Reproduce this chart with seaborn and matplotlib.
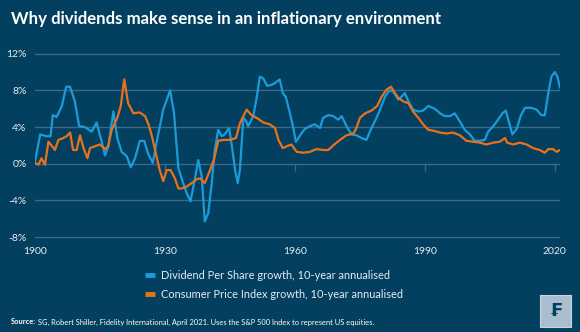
import numpy as np
import pandas as pd
import matplotlib
matplotlib.use("Agg")
import matplotlib.pyplot as plt
from matplotlib.patches import Rectangle
import seaborn as sns

# ---------------- data ----------------
div_years = [1900, 1901.2, 1902.7, 1903.6, 1904.1, 1905, 1906.2, 1907.2, 1908.1, 1909.2,
             1910.2, 1911.5, 1913.1, 1914.2, 1915.4, 1916.2, 1916.9, 1918.1, 1919, 1920,
             1921.2, 1922.1, 1923.1, 1924.2, 1925.2, 1926.2, 1927.2, 1928.1, 1929.6, 1931.2,
             1932.1, 1933.1, 1934.2, 1935, 1935.9, 1936.9, 1937.7, 1938.5, 1939.2, 1940,
             1940.8, 1941.5, 1942.3, 1943.1, 1943.8, 1944.8, 1945.4, 1946.2, 1946.8, 1947.3,
             1948.1, 1948.7, 1949.2, 1950.4, 1951.2, 1951.9, 1952.7, 1953.6, 1954.6, 1955.4,
             1956.5, 1957.2, 1957.9, 1958.85, 1959.6, 1960.2, 1960.8, 1961.5, 1962.3, 1963.5,
             1964.6, 1965.8, 1966.5, 1967.7, 1968.85, 1970, 1970.8, 1971.9, 1973.1, 1974.2,
             1975.4, 1976.5, 1977.7, 1978.85, 1979.8, 1980.8, 1981.8, 1982.7, 1983.85, 1984.6,
             1985.4, 1986.2, 1987.3, 1988.5, 1989.6, 1990.8, 1992.3, 1993.5, 1994.6, 1995.8,
             1996.9, 1998.1, 1999.2, 2000.4, 2001.5, 2002.7, 2003.85, 2004.6, 2005.8, 2006.9,
             2007.9, 2008.7, 2009.5, 2010.2, 2011.2, 2012.1, 2013.1, 2014.6, 2015.8, 2016.9,
             2017.7, 2018.5, 2019.2, 2020, 2020.6, 2021.2]
div_growth = [0.25, 3.2, 3.0, 3.0, 5.3, 5.1, 6.3, 8.4, 8.4, 6.8,
              4.1, 4.0, 3.5, 4.5, 2.4, 0.9, 1.9, 5.7, 2.8, 1.3,
              0.8, -0.4, 0.6, 2.5, 2.5, 1.0, 0.1, 2.4, 5.9, 8.0,
              5.5, -0.5, -2.1, -3.2, -4.1, -1.7, 0.4, -1.4, -6.3, -5.4,
              -2.1, 1.5, 3.7, 3.0, 3.2, 3.9, 2.1, -0.7, -2.1, -0.7,
              5.0, 4.7, 4.1, 5.2, 7.3, 9.5, 9.3, 8.5, 8.6, 8.8,
              9.2, 7.7, 7.3, 5.5, 4.0, 2.4, 2.8, 3.3, 3.8, 4.1,
              4.3, 3.9, 5.0, 5.3, 5.2, 4.8, 5.2, 4.1, 3.2, 3.1,
              2.8, 2.6, 3.9, 5.0, 6.1, 7.3, 8.0, 7.9, 7.0, 7.3,
              7.7, 6.8, 5.9, 5.7, 5.8, 6.3, 6.0, 5.5, 5.2, 5.2,
              5.5, 4.6, 3.7, 3.2, 2.5, 2.5, 2.6, 3.5, 4.1, 4.8,
              5.5, 5.8, 4.4, 3.2, 3.8, 5.2, 6.1, 6.1, 5.9, 5.3,
              5.3, 7.7, 9.5, 10.0, 9.5, 8.3]

cpi_years = [1900, 1900.8, 1901.5, 1902.3, 1903.1, 1903.8, 1904.6, 1905.4, 1906.5, 1907.3,
             1908.1, 1908.8, 1909.6, 1910.4, 1911.2, 1912.1, 1912.7, 1913.8, 1915, 1916.2,
             1916.9, 1917.7, 1919, 1919.8, 1920.6, 1921.5, 1922.7, 1924.2, 1925.4, 1926.2,
             1927, 1927.7, 1928.8, 1929.6, 1930.4, 1931.3, 1932.3, 1933.1, 1933.85, 1935,
             1936.2, 1937.3, 1938.1, 1939.2, 1940.4, 1941.3, 1942.3, 1943.5, 1945, 1946.4,
             1947.3, 1948.1, 1948.85, 1950, 1951.2, 1952.7, 1954.2, 1955.4, 1956.2, 1957.2,
             1958.1, 1959.2, 1960.4, 1961.9, 1963.5, 1965, 1966.5, 1967.7, 1968.85, 1970.4,
             1971.9, 1973.5, 1974.2, 1975, 1976.2, 1977.7, 1979, 1980, 1981.2, 1982.2,
             1983.1, 1983.85, 1985, 1986.2, 1987.3, 1988.5, 1989.6, 1990.8, 1992, 1993.5,
             1995, 1996.5, 1998.1, 1999.6, 2001.2, 2002.7, 2004.2, 2005.8, 2007.3, 2008.5,
             2009, 2010.4, 2011.9, 2013.5, 2015, 2016.5, 2017.7, 2018.5, 2019.6, 2020.4,
             2021.2]
cpi_growth = [0.1, -0.1, 0.6, -0.1, 2.4, 2.0, 1.5, 2.6, 2.8, 3.0,
              3.4, 1.5, 1.5, 3.1, 1.7, 0.6, 1.7, 1.9, 2.1, 1.6,
              1.9, 3.7, 5.0, 6.3, 9.2, 6.6, 5.5, 5.6, 5.2, 4.3,
              3.0, 1.5, -0.7, -1.9, -0.7, -0.7, -1.6, -2.7, -2.7, -2.5,
              -2.1, -1.7, -1.6, -2.1, -0.7, 0.4, 2.5, 2.6, 2.6, 2.8,
              4.4, 5.2, 5.9, 5.3, 5.0, 4.5, 4.3, 3.9, 2.6, 1.7,
              1.9, 2.1, 1.3, 1.2, 1.3, 1.6, 1.5, 1.5, 2.0, 2.6,
              3.1, 3.3, 3.9, 5.0, 5.5, 5.8, 6.3, 7.3, 8.1, 8.4,
              7.7, 7.2, 6.8, 6.6, 5.7, 5.0, 4.3, 3.7, 3.6, 3.4,
              3.3, 3.4, 3.1, 2.5, 2.4, 2.3, 2.1, 2.3, 2.4, 2.8,
              2.3, 2.1, 2.3, 2.1, 1.7, 1.5, 1.2, 1.6, 1.6, 1.3,
              1.5]

series_names = ["Dividend Per Share growth, 10-year annualised",
                "Consumer Price Index growth, 10-year annualised"]
x_ticks = [1900, 1930, 1960, 1990, 2020]
y_ticks = [-8, -4, 0, 4, 8, 12]
y_tick_labels = ["-8%", "-4%", "0%", "4%", "8%", "12%"]

title = "Why dividends make sense in an inflationary environment"
source_bold = "Source:"
source_rest = (" SG, Robert Shiller, Fidelity International, April 2021. "
               "Uses the S&P 500 Index to represent US equities.")

# ---------------- styling ----------------
BG = "#033F5F"
GRID = "#3D6986"
TXT = "#E6EDF2"
BLUE = "#1C9BD8"
ORANGE = "#EA711C"

df = pd.concat([
    pd.DataFrame({"year": div_years, "value": div_growth, "series": series_names[0]}),
    pd.DataFrame({"year": cpi_years, "value": cpi_growth, "series": series_names[1]}),
], ignore_index=True)

sns.set_theme(style="dark")
plt.rcParams["font.family"] = ["Lato", "DejaVu Sans"]

fig = plt.figure(figsize=(5.8, 3.32), dpi=100, facecolor=BG)
ax = fig.add_axes([35 / 580, 1 - 239.8 / 332, 525 / 580, (239.8 - 51) / 332])
ax.set_facecolor(BG)

sns.lineplot(data=df, x="year", y="value", hue="series", estimator=None, sort=True,
             palette=[BLUE, ORANGE], hue_order=series_names, linewidth=1.6, ax=ax,
             legend=True)

ax.set_xlim(1900, 2021.2)
ax.set_ylim(-8.3, 12.3)
ax.set_yticks(y_ticks)
ax.set_yticklabels(y_tick_labels)
ax.set_xticks(x_ticks)
ax.set_xticklabels([str(t) for t in x_ticks])
ax.set_xlabel("")
ax.set_ylabel("")
ax.grid(axis="y", color=GRID, linewidth=1.0)
ax.grid(axis="x", visible=False)
ax.set_axisbelow(True)
for s in ax.spines.values():
    s.set_visible(False)
ax.tick_params(axis="both", length=0, colors=TXT, labelsize=7.5)
ax.tick_params(axis="y", pad=6)
ax.tick_params(axis="x", pad=5)

# small tick marks hanging off the zero line
zero_frac = (0 - (-8.3)) / (12.3 - (-8.3))
sec = ax.secondary_xaxis(zero_frac)
sec.set_xticks(x_ticks[1:])
sec.tick_params(axis="x", length=5, width=1, color=GRID, labelbottom=False,
                direction="out")
sec.set_xticklabels([])
sec.spines["bottom"].set_visible(False)

# legend
handles, labels = ax.get_legend_handles_labels()
if ax.get_legend() is not None:
    ax.get_legend().remove()
leg = fig.legend(handles, labels, loc="upper left", bbox_to_anchor=(145 / 580, 1 - 270 / 332),
                 frameon=False, fontsize=7.9, handlelength=0.95, handletextpad=0.5,
                 labelspacing=0.72, borderpad=0, borderaxespad=0)
for h in leg.get_lines():
    h.set_linewidth(3.5)
    h.set_solid_capstyle("butt")
for t in leg.get_texts():
    t.set_color(TXT)

# title
fig.text(11 / 580, 1 - 19 / 332, title, color="white", fontsize=12.1,
         fontweight="bold", va="center", ha="left")

# source line
renderer = fig.canvas.get_renderer()
tb = fig.text(11 / 580, 1 - 322 / 332, source_bold, color="white", fontsize=5.4,
              fontweight="bold", va="center", ha="left")
bb = tb.get_window_extent(renderer=renderer)
fig.text(bb.x1 / fig.bbox.width, 1 - 322 / 332, source_rest, color="white",
         fontsize=5.4, va="center", ha="left")

# logo box
fig.patches.append(Rectangle((540 / 580, 1 - 327 / 332), 31 / 580, 32 / 332,
                             transform=fig.transFigure, facecolor="#A9BFCF",
                             edgecolor="#C6D5E0", linewidth=0.8, zorder=5))
fig.text(555.5 / 580, 1 - 311 / 332, "₣", color=BG, fontsize=13, fontweight="bold",
         ha="center", va="center", family=["DejaVu Sans"], zorder=6)

fig.savefig("out.png", dpi=100, facecolor=BG)
